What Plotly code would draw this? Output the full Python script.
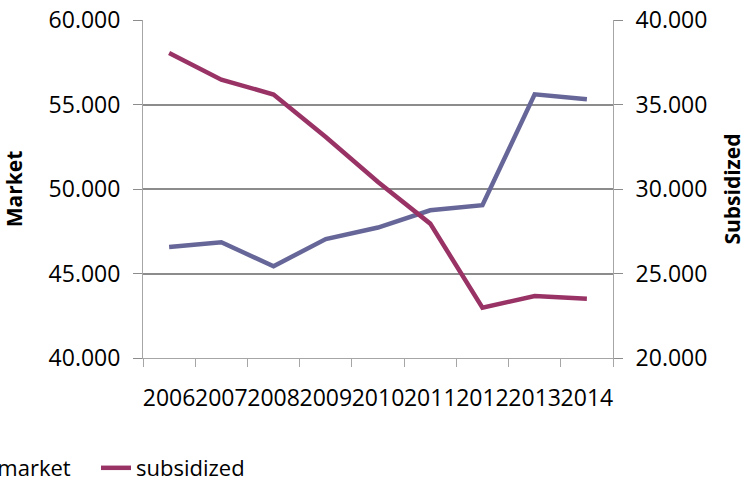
import plotly.graph_objects as go

years = ["2006", "2007", "2008", "2009", "2010", "2011", "2012", "2013", "2014"]
market = [46570, 46850, 45430, 47040, 47720, 48740, 49040, 55600, 55310]
subsidized = [38050, 36470, 35590, 33080, 30410, 27950, 22980, 23670, 23510]

BLUE = "#666699"
RED = "#993366"
GRID = "#8c8c8c"
AXIS = "#a6a6a6"
FONT = "Open Sans"

fig = go.Figure()
fig.add_trace(go.Scatter(x=years, y=market, name="market", mode="lines",
                         line=dict(color=BLUE, width=4.5), yaxis="y", legend="legend"))
fig.add_trace(go.Scatter(x=years, y=subsidized, name="subsidized", mode="lines",
                         line=dict(color=RED, width=4.5), yaxis="y2", legend="legend2"))

legend_common = dict(orientation="h", y=0.027, xref="paper", yref="container",
                     xanchor="left", yanchor="middle", font=dict(size=22),
                     bgcolor="rgba(0,0,0,0)")

fig.update_layout(
    width=746, height=481,
    margin=dict(l=143, r=133, t=20, b=123, autoexpand=False),
    paper_bgcolor="white", plot_bgcolor="white",
    separators=",.",
    font=dict(family=FONT, size=23, color="black"),
    showlegend=True,
    legend=dict(x=-0.395, **legend_common),
    legend2=dict(x=-0.10, **legend_common),
    xaxis=dict(type="category", range=[-0.5, len(years) - 0.5],
               showgrid=False, showline=True, linecolor=AXIS, linewidth=1,
               ticks="outside", ticklen=8, tickcolor=AXIS, tickson="boundaries",
               tickangle=0, ticklabelstandoff=19, tickfont=dict(size=23)),
    yaxis=dict(title=dict(text="<b>Market</b>", font=dict(size=21), standoff=22),
               range=[40000, 60000], dtick=5000, tickformat=",d",
               showgrid=True, gridcolor=GRID, gridwidth=2,
               showline=True, linecolor=AXIS, linewidth=1,
               ticks="outside", ticklen=9, tickcolor=GRID, ticklabelstandoff=8,
               zeroline=False),
    yaxis2=dict(title=dict(text="<b>Subsidized</b>", font=dict(size=21), standoff=22),
                range=[20000, 40000], dtick=5000, tickformat=",d",
                overlaying="y", side="right", showgrid=False,
                showline=True, linecolor=AXIS, linewidth=1,
                ticks="outside", ticklen=9, tickcolor=GRID, ticklabelstandoff=8,
                zeroline=False),
)

fig.write_html("out.html")
